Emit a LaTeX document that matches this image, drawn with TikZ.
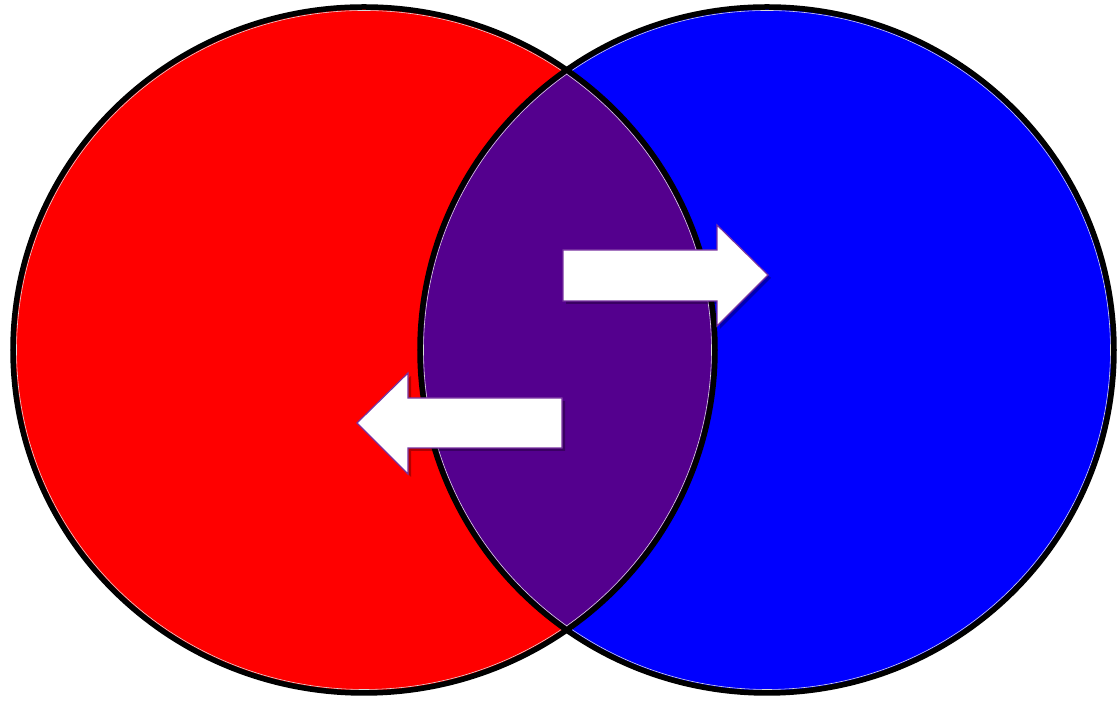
\documentclass[tikz,border=0pt]{standalone}
\usetikzlibrary{shadows}
\definecolor{vred}{RGB}{255,0,0}
\definecolor{vblue}{RGB}{0,0,255}
\definecolor{vpurple}{RGB}{84,0,142}
\definecolor{arrowedge}{RGB}{120,50,160}
\tikzset{
  outline/.style={draw=black,line width=0.055cm},
  inner hl/.style={draw=white!70!gray,line width=0.006cm},
  bigarrow/.style={fill=white,draw=arrowedge,line width=0.012cm,line join=miter,
    drop shadow={shadow xshift=0.03cm,shadow yshift=-0.03cm,opacity=0.3,fill=black}}
}
\begin{document}
\begin{tikzpicture}[x=0.01cm,y=-0.01cm]
\useasboundingbox (0,0) rectangle (1117,701);
\coordinate (L) at (364,350);
\coordinate (R) at (767,350);
% fills
\fill[vred] (L) ellipse [x radius=351,y radius=343];
\fill[vblue] (R) ellipse [x radius=347,y radius=343];
\begin{scope}
  \clip (L) ellipse [x radius=351,y radius=343];
  \fill[vpurple] (R) ellipse [x radius=347,y radius=343];
\end{scope}
% inner highlight lines
\draw[inner hl] (L) ellipse [x radius=347.5,y radius=339.5];
\draw[inner hl] (R) ellipse [x radius=343.5,y radius=339.5];
% outlines
\draw[outline] (L) ellipse [x radius=351,y radius=343];
\draw[outline] (R) ellipse [x radius=347,y radius=343];
% right arrow
\draw[bigarrow] (563,250) coordinate (ra1) -- (717,250) -- (717,225) -- (768,275) coordinate (rtip)
  -- (717,326) -- (717,301) -- (563,301) -- cycle;
% left arrow
\draw[bigarrow] (562,398) coordinate (la1) -- (408,398) -- (408,373) -- (357,423) coordinate (ltip)
  -- (408,474) -- (408,448) -- (562,448) -- cycle;
\end{tikzpicture}
\end{document}
